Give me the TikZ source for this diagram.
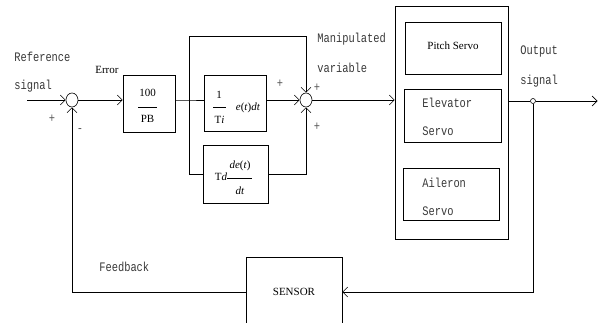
\documentclass[tikz,border=0pt]{standalone}
\usepackage{fontspec}
\setmainfont{Liberation Serif}
\newfontfamily\monof{Liberation Mono}[FakeStretch=0.8]
\usetikzlibrary{arrows.meta,shapes.geometric}
\begin{document}
\begin{tikzpicture}[x=1pt,y=-1pt, line width=0.6pt,
  blk/.style={draw, inner sep=0, font=\fontsize{11}{12}\selectfont},
  sum/.style={draw, ellipse, inner sep=0, minimum width=12pt, minimum height=14pt},
  lab/.style={font=\monof\fontsize{13}{15}\selectfont, text=black!78, inner sep=0, anchor=west},
  srf/.style={font=\fontsize{11}{12}\selectfont, inner sep=0},
  sgn/.style={font=\monof\fontsize{13}{15}\selectfont, text=black!65, inner sep=0},
  >={Straight Barb[length=5pt,width=10pt]}]
\useasboundingbox (0,0) rectangle (598,323);

% summing junction 1 and input
\node[sum] (s1) at (72,100) {};
\coordinate (in) at (27,100);
\draw[->] (in) -- (s1.west);

% 100/PB block
\node[blk, minimum width=52pt, minimum height=57pt] (pb) at (149,103.5) {};
\node[srf] (pbn) at (147.5,93) {100};
\node[srf] (pbd) at (147.5,119) {PB};
\draw[line width=0.5pt] (138,107) -- (157,107);
\draw[->] (s1.east) -- (pb.west |- s1);

% branch point
\coordinate (j) at (189,100);
\coordinate (tl) at (189,36);
\coordinate (bl) at (189,174);

% integral block
\node[blk, minimum width=62pt, minimum height=56pt] (integ) at (235,103) {};
\node[srf] (in1) at (219,95) {1};
\draw[line width=0.5pt] (213,107) -- (226,107);
\node[srf] (inT) at (219.5,120) {T\textit{i}};
\node[srf] (inE) at (248,108) {\textit{e}(\textit{t})\textit{dt}};

% derivative block
\node[blk, minimum width=65pt, minimum height=58pt] (td) at (235.5,174) {};
\node[srf] (tdT) at (221,177) {T\textit{d}};
\node[srf] (tdN) at (240,166) {\textit{de}(\textit{t})};
\draw[line width=0.5pt] (227,178) -- (252,178);
\node[srf] (tdD) at (240,191) {\textit{dt}};

% summing junction 2
\node[sum] (s2) at (306,100) {};
\coordinate (tr) at (306,36);

\draw (pb.east |- j) -- (j) -- (integ.west |- j);
\draw[->] (integ.east |- j) -- (s2.west);
\draw[->] (j) -- (tl) -- (tr) -- (s2.north);
\draw[->] (j) -- (bl) -- (td.west) (td.east) -- (s2 |- td.east) -- (s2.south);

% servo box
\node[blk, minimum width=113pt, minimum height=233pt] (big) at (451.5,122.5) {};
\node[blk, minimum width=96pt, minimum height=52pt] (pitch) at (453,48) {};
\node[srf] (pitchT) at (453,46) {Pitch Servo};
\node[blk, minimum width=97pt, minimum height=53pt] (elev) at (452.5,115.5) {};
\node[lab] (elev1) at (422,103) {Elevator};
\node[lab] (elev2) at (422,131) {Servo};
\node[blk, minimum width=96pt, minimum height=52pt] (ail) at (451,194) {};
\node[lab] (ail1) at (422,183) {Aileron};
\node[lab] (ail2) at (422,211) {Servo};

\draw[->] (s2.east) -- (big.west |- s2);

% output
\node[draw, circle, inner sep=0, minimum size=5pt] (oc) at (533,101) {};
\coordinate (out) at (597.5,101);
\draw (big.east |- oc) -- (oc.west);
\draw[->] (oc.east) -- (out);

% sensor and feedback
\node[blk, minimum width=96pt, minimum height=70pt] (sen) at (294,292) {};
\node[srf] (senT) at (294,292) {SENSOR};
\coordinate (fr) at (533,292);
\coordinate (fl) at (72,292);
\draw[->] (oc.south) -- (fr) -- (sen.east);
\draw[->] (sen.west) -- (fl) -- (s1.south);

% labels
\node[lab] (l1) at (14,57) {Reference};
\node[lab] (l2) at (14,86) {signal};
\node[srf, anchor=west] (lerr) at (95,70) {Error};
\node[sgn] (p1) at (52,119) {+};
\node[sgn] (m1) at (80,131) {-};
\node[sgn] (p2) at (280,84) {+};
\node[sgn] (p3) at (317,88) {+};
\node[sgn] (p4) at (317,127) {+};
\node[lab] (l3) at (317,39) {Manipulated};
\node[lab] (l4) at (317,68) {variable};
\node[lab] (l5) at (520,52) {Output};
\node[lab] (l6) at (520,81) {signal};
\node[lab] (l7) at (99,267) {Feedback};
\end{tikzpicture}
\end{document}
